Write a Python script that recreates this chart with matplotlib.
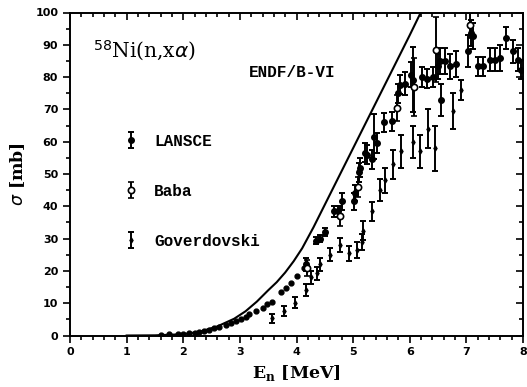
import numpy as np
import matplotlib
matplotlib.use('Agg')
import matplotlib.pyplot as plt
from matplotlib.ticker import MultipleLocator

# ENDF/B-VI evaluation
endf_e = [1.0, 1.5, 2.0, 2.3, 2.6, 2.9, 3.1, 3.3, 3.5, 3.65, 3.8, 3.95, 4.1, 4.3, 4.5, 4.6,
          5.0, 5.5, 6.0, 6.25]
endf_s = [0.0, 0.05, 0.4, 1.2, 2.8, 5.2, 7.5, 10.5, 14.0, 16.5, 19.5, 23.0, 27.0, 33.5, 40.5,
          44.0, 58.0, 75.5, 93.0, 102.0]

# LANSCE, low energy points (error bars smaller than the dots)
lansce_dot_e = [1.60, 1.75, 1.90, 2.00, 2.10, 2.20, 2.28, 2.37, 2.46, 2.55, 2.64, 2.75, 2.84,
                2.93, 3.02, 3.10, 3.16, 3.28, 3.40, 3.48, 3.57, 3.72, 3.81, 3.90, 4.01, 4.13]
lansce_dot_s = [0.3, 0.4, 0.5, 0.6, 0.7, 0.9, 1.1, 1.4, 1.8, 2.2, 2.6, 3.2, 3.9,
                4.6, 5.2, 5.8, 6.6, 7.6, 8.6, 9.6, 10.3, 13.5, 14.8, 16.2, 18.5, 21.0]

# LANSCE, with error bars
lansce_e = [4.16, 4.34, 4.42, 4.51, 4.66, 4.74, 4.80, 5.01, 5.04, 5.10, 5.13, 5.21, 5.24, 5.33,
            5.36, 5.42, 5.54, 5.68, 5.80, 5.83, 5.92, 6.03, 6.06, 6.21, 6.30, 6.41, 6.50, 6.53,
            6.55, 6.62, 6.71, 6.82, 7.03, 7.09, 7.12, 7.21, 7.29, 7.41, 7.50, 7.59, 7.70, 7.82,
            7.91, 7.97]
lansce_s = [22.0, 29.4, 30.0, 32.0, 38.4, 38.4, 41.5, 41.5, 44.0, 50.5, 52.0, 56.6, 56.0, 54.5,
            61.5, 59.6, 66.0, 66.3, 75.0, 77.7, 78.0, 80.8, 79.2, 80.0, 79.5, 80.0, 83.3, 84.9,
            73.0, 84.9, 83.3, 84.0, 88.0, 93.7, 92.6, 83.3, 83.3, 85.4, 85.4, 86.0, 92.1, 88.0,
            85.4, 82.3]
lansce_err = [2.0, 1.2, 1.2, 1.3, 1.8, 1.8, 2.5, 2.5, 2.5, 3.0, 3.0, 3.0, 3.0, 3.0,
              7.0, 3.0, 3.0, 3.0, 3.0, 3.0, 3.5, 4.0, 10.0, 3.0, 3.0, 3.0, 4.0, 4.0,
              5.0, 4.0, 4.0, 4.0, 5.0, 4.0, 4.0, 3.0, 3.0, 3.5, 3.5, 4.0, 3.5, 3.5,
              3.5, 3.0]

# Baba
baba_e = [4.19, 4.77, 5.08, 5.77, 6.08, 6.47, 7.06]
baba_s = [21.0, 37.0, 46.0, 70.5, 77.0, 88.5, 96.0]
baba_err = [2.5, 3.0, 3.0, 4.0, 9.0, 10.0, 4.0]

# Goverdovski
gov_e = [3.57, 3.78, 3.98, 4.16, 4.25, 4.37, 4.42, 4.60, 4.77, 4.92, 5.07, 5.15, 5.18, 5.33,
         5.48, 5.57, 5.70, 5.85, 6.05, 6.18, 6.33, 6.45, 6.77, 6.91]
gov_s = [5.3, 7.6, 10.2, 14.0, 18.0, 19.3, 22.0, 25.0, 28.0, 25.5, 26.5, 29.0, 32.5, 38.4,
         45.0, 48.0, 53.0, 57.0, 60.0, 57.0, 64.0, 58.0, 69.5, 76.0]
gov_err = [1.5, 1.5, 1.8, 1.8, 2.0, 2.0, 2.0, 2.0, 2.3, 2.3, 2.5, 2.5, 2.8, 3.0,
           3.5, 4.0, 4.5, 5.0, 5.0, 5.0, 6.0, 7.0, 5.5, 3.0]

fig = plt.figure(figsize=(5.27, 3.87), dpi=100)
ax = fig.add_axes([70 / 527, 51.5 / 387, 453 / 527, 323 / 387])

ax.plot(endf_e, endf_s, color='black', lw=1.5)
ax.plot(lansce_dot_e, lansce_dot_s, 'o', color='black', ms=3.5)

eb_kw = dict(color='black', ecolor='black', elinewidth=1.4, capsize=2.5, capthick=1.4, ls='none')
h_lansce = ax.errorbar(lansce_e, lansce_s, yerr=lansce_err, fmt='o', ms=4, **eb_kw)
h_baba = ax.errorbar(baba_e, baba_s, yerr=baba_err, fmt='o', ms=4.5, mfc='white', mew=1.2, **eb_kw)
h_gov = ax.errorbar(gov_e, gov_s, yerr=gov_err, fmt='d', ms=2.5, **eb_kw)

ax.set_xlim(0, 8)
ax.set_ylim(0, 100)
ax.xaxis.set_major_locator(MultipleLocator(1))
ax.xaxis.set_minor_locator(MultipleLocator(0.2))
ax.yaxis.set_major_locator(MultipleLocator(10))
ax.yaxis.set_minor_locator(MultipleLocator(5))
ax.tick_params(which='both', top=True, right=True, direction='out', width=1.2, labelsize=8)
ax.tick_params(which='major', length=5)
ax.tick_params(which='minor', length=3)
for lab in ax.get_xticklabels() + ax.get_yticklabels():
    lab.set_fontweight('bold')
# top and right ticks point inward
for t in ax.xaxis.get_major_ticks() + ax.xaxis.get_minor_ticks():
    t.tick2line.set_marker(3)
for t in ax.yaxis.get_major_ticks() + ax.yaxis.get_minor_ticks():
    t.tick2line.set_marker(0)
for sp in ax.spines.values():
    sp.set_linewidth(1.4)

ax.set_xlabel(r'E$_\mathregular{n}$ [MeV]', family='DejaVu Serif', fontweight='bold',
              fontsize=12.5, labelpad=4)
ax.set_ylabel(r'$\sigma$ [mb]', family='DejaVu Serif', fontweight='bold',
              fontsize=12.5, labelpad=6)

ax.text(0.05, 0.88, r'$^{58}$Ni(n,x$\alpha$)', transform=ax.transAxes,
        family='DejaVu Serif', fontsize=14.5, va='center')
ax.text(0.395, 0.815, 'ENDF/B-VI', transform=ax.transAxes,
        family='Liberation Mono', fontweight='bold', fontsize=11.5, va='center')

ax.legend([h_lansce, h_baba, h_gov], ['LANSCE', 'Baba', 'Goverdovski'],
          loc='upper left', bbox_to_anchor=(0.105, 0.645), frameon=False,
          prop={'family': 'Liberation Mono', 'weight': 'bold', 'size': 11.5},
          handlelength=0.9, handletextpad=1.0, labelspacing=2.2, borderaxespad=0)

plt.savefig('out.png', dpi=100)
